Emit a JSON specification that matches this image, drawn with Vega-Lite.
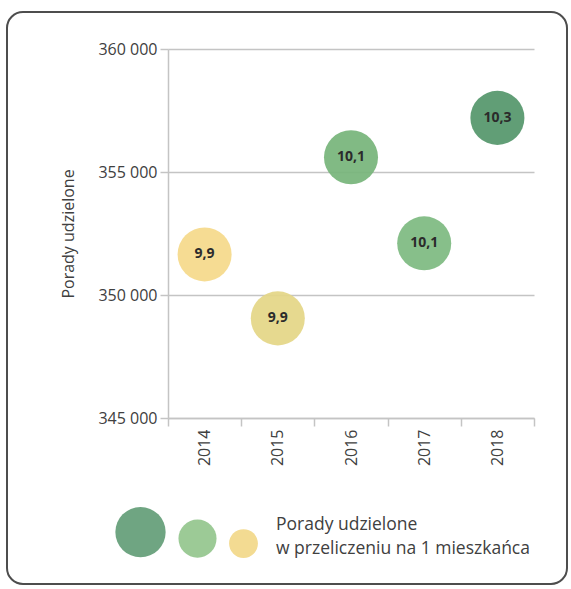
{
  "$schema": "https://vega.github.io/schema/vega-lite/v6.json",
  "autosize": {"type": "none"},
  "padding": {"left": 7, "top": 12, "right": 4, "bottom": 5},
  "width": 560,
  "height": 572,
  "background": "white",
  "config": {
    "view": {"stroke": "#4d4d4d", "strokeWidth": 2, "cornerRadius": 16, "fill": "white"},
    "font": "Open Sans",
    "axis": {
      "labelFont": "Open Sans", "labelFontSize": 16, "labelColor": "#404040",
      "titleFont": "Open Sans", "titleFontSize": 16, "titleColor": "#404040", "titleFontWeight": "normal",
      "domainColor": "#c4c4c4", "domainWidth": 1.5, "tickColor": "#c4c4c4", "tickWidth": 1.5,
      "gridColor": "#c4c4c4", "gridWidth": 1.5
    }
  },
  "data": {"values": [
    {"year": "2014", "count": 351650, "rate": "9,9"},
    {"year": "2015", "count": 349050, "rate": "9,9"},
    {"year": "2016", "count": 355600, "rate": "10,1"},
    {"year": "2017", "count": 352100, "rate": "10,1"},
    {"year": "2018", "count": 357200, "rate": "10,3"}
  ]},
  "encoding": {
    "x": {
      "field": "year", "type": "nominal",
      "scale": {"range": [161, 527], "paddingInner": 0, "paddingOuter": 0},
      "axis": {
        "orient": "bottom", "offset": -166, "title": null, "tickBand": "extent",
        "labelAngle": -90, "labelAlign": "right", "labelBaseline": "middle",
        "labelPadding": 3, "tickSize": 8, "grid": false
      }
    },
    "y": {
      "field": "count", "type": "quantitative",
      "scale": {"domain": [345000, 360000], "range": [406, 37], "zero": false, "nice": false},
      "axis": {
        "orient": "left", "offset": -161, "title": "Porady udzielone",
        "values": [345000, 350000, 355000, 360000],
        "labelExpr": "replace(format(datum.value, ','), ',', ' ')",
        "tickSize": 8, "labelPadding": 3, "titlePadding": 21, "grid": true
      }
    }
  },
  "layer": [
    {
      "mark": {"type": "point", "filled": true, "opacity": 0},
      "encoding": {
        "fill": {
          "field": "rate", "type": "ordinal",
          "scale": {"domain": ["10,3", "10,1", "9,9"], "range": ["#6FA582", "#9CCA96", "#F3DB92"]},
          "legend": {
            "orient": "none", "legendX": 108, "legendY": 491,
            "direction": "horizontal",
            "title": ["Porady udzielone", "w przeliczeniu na 1 mieszkańca"],
            "titleOrient": "right", "titleAlign": "left", "titleBaseline": "bottom", "titleAnchor": "end",
            "titleFont": "Open Sans", "titleFontSize": 17.5, "titleFontWeight": "normal", "titleLimit": 500,
            "titleColor": "#404040", "titleLineHeight": 24, "titlePadding": 18,
            "labelExpr": "''", "labelOffset": 0, "columnPadding": 12,
            "symbolStrokeWidth": 0, "symbolOpacity": 1,
            "encode": {"symbols": {"update": {
              "opacity": {"value": 1}, "fillOpacity": {"value": 1},
              "y": {"signal": "2*sqrt(2530/PI) - sqrt(scale('size', datum.value)/PI)"}
            }}}
          }
        },
        "size": {
          "field": "rate", "type": "ordinal",
          "scale": {"type": "ordinal", "domain": ["10,3", "10,1", "9,9"], "range": [2530, 1450, 830]}
        }
      }
    },
    {
      "mark": {"type": "circle", "opacity": 0.92, "size": 2920},
      "encoding": {
        "color": {
          "field": "year", "type": "nominal",
          "scale": {"domain": ["2014", "2015", "2016", "2017", "2018"], "range": ["#F5D98A", "#E4D685", "#76B47A", "#7DBA80", "#54966A"]},
          "legend": null
        }
      }
    },
    {
      "mark": {"type": "text", "font": "Open Sans", "fontSize": 14, "fontWeight": "bold", "color": "#2b2b2b", "baseline": "middle", "align": "center"},
      "encoding": {"text": {"field": "rate", "type": "nominal"}}
    }
  ]
}
